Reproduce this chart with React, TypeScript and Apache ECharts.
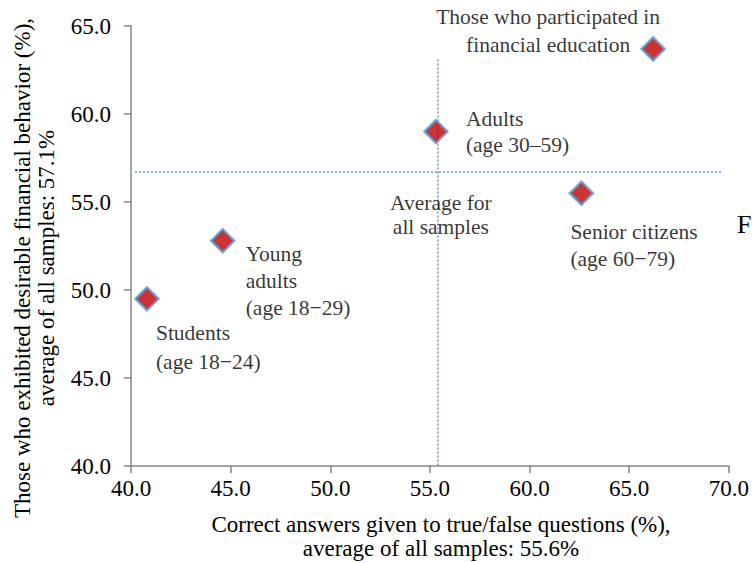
import React, { useEffect, useRef } from "react";
import * as echarts from "echarts";

const groupNames = [
  "Those who participated in\nfinancial education",
  "Adults\n(age 30–59)",
  "Senior citizens\n(age 60−79)",
  "Young\nadults\n(age 18−29)",
  "Students\n(age 18−24)",
];
const correctAnswers = [66.2, 55.3, 62.6, 44.6, 40.8];
const desirableBehavior = [63.7, 59.0, 55.5, 52.8, 49.5];
const avgX = 55.4;
const avgY = 56.7;
const xTicks = [40, 45, 50, 55, 60, 65, 70];
const yTicks = [40, 45, 50, 55, 60, 65];

const labelLayout: { align: "left" | "center"; offset: [number, number]; lh: number }[] = [
  { align: "center", offset: [-105, -18], lh: 28 },
  { align: "left", offset: [30, 0], lh: 26 },
  { align: "left", offset: [-11, 52], lh: 27 },
  { align: "left", offset: [23, 40], lh: 27 },
  { align: "left", offset: [9, 49], lh: 29 },
];

const FONT = "Liberation Serif";

function buildOption() {
  const pts = groupNames.map((n, i) => ({
    value: [correctAnswers[i], desirableBehavior[i]],
    label: {
      show: true,
      position: "inside",
      formatter: n,
      align: labelLayout[i].align,
      verticalAlign: "middle",
      offset: labelLayout[i].offset,
      color: "#000",
      fontSize: 21.5,
      fontFamily: FONT,
      lineHeight: labelLayout[i].lh,
    },
  }));
  return {
    animation: false,
    grid: { left: 131, right: 21, top: 26, bottom: 97 },
    xAxis: {
      type: "value",
      min: xTicks[0],
      max: xTicks[xTicks.length - 1],
      interval: 5,
      splitLine: { show: false },
      axisLine: { show: true, lineStyle: { color: "#868686", width: 1.5 } },
      axisTick: { show: true, length: 7, lineStyle: { color: "#868686", width: 1.5 } },
      axisLabel: { fontFamily: FONT, fontSize: 23, color: "#000", margin: 11, formatter: (v: number) => v.toFixed(1) },
    },
    yAxis: {
      type: "value",
      min: yTicks[0],
      max: yTicks[yTicks.length - 1],
      interval: 5,
      splitLine: { show: false },
      axisLine: { show: true, lineStyle: { color: "#868686", width: 1.5 } },
      axisTick: { show: true, length: 7, lineStyle: { color: "#868686", width: 1.5 } },
      axisLabel: { fontFamily: FONT, fontSize: 23, color: "#000", margin: 20, formatter: (v: number) => v.toFixed(1) },
    },
    graphic: [
      {
        type: "text",
        x: 441,
        y: 536,
        style: {
          text: "Correct answers given to true/false questions (%),\naverage of all samples: 55.6%",
          fontSize: 23,
          fontFamily: FONT,
          fill: "#000",
          align: "center",
          verticalAlign: "middle",
          lineHeight: 24,
        },
      },
      {
        type: "text",
        x: 34,
        y: 268,
        rotation: Math.PI / 2,
        style: {
          text: "Those who exhibited desirable financial behavior (%),\naverage of all samples: 57.1%",
          fontSize: 23,
          fontFamily: FONT,
          fill: "#000",
          align: "center",
          verticalAlign: "middle",
          lineHeight: 24,
        },
      },
      {
        type: "text",
        x: 737,
        y: 224,
        style: { text: "F", fontSize: 26, fontFamily: FONT, fill: "#000", verticalAlign: "middle" },
      },
    ],
    series: [
      {
        type: "line",
        data: [
          [avgX, 63.1],
          [avgX, 40],
        ],
        symbol: "none",
        lineStyle: { color: "#5b9bd5", width: 1.5, type: [2, 2] },
        z: 1,
      },
      {
        type: "line",
        data: [
          [40.2, avgY],
          [69.7, avgY],
        ],
        symbol: "none",
        lineStyle: { color: "#5b9bd5", width: 1.5, type: [2, 2] },
        z: 1,
      },
      {
        type: "scatter",
        data: [
          {
            value: [avgX, avgY],
            label: {
              show: true,
              position: "inside",
              formatter: "Average for\nall samples",
              align: "center",
              verticalAlign: "middle",
              offset: [3, 43],
              color: "#000",
              fontSize: 21.5,
              fontFamily: FONT,
              lineHeight: 24,
            },
          },
        ],
        symbolSize: 2,
        itemStyle: { color: "rgba(0,0,0,0)" },
        z: 1,
      },
      {
        type: "scatter",
        data: pts,
        symbol: "diamond",
        symbolSize: 23,
        itemStyle: { color: "#c00000", borderColor: "#5b9bd5", borderWidth: 2.5 },
        z: 3,
      },
    ],
  };
}

export default function App() {
  const ref = useRef<HTMLDivElement>(null);
  useEffect(() => {
    if (!ref.current) return;
    const chart = echarts.init(ref.current, undefined, { renderer: "svg" });
    chart.setOption(buildOption() as any);
    return () => {
      chart.dispose();
    };
  }, []);
  return <div ref={ref} style={{ width: 752, height: 563, position: "absolute", left: 0, top: 0 }} />;
}
